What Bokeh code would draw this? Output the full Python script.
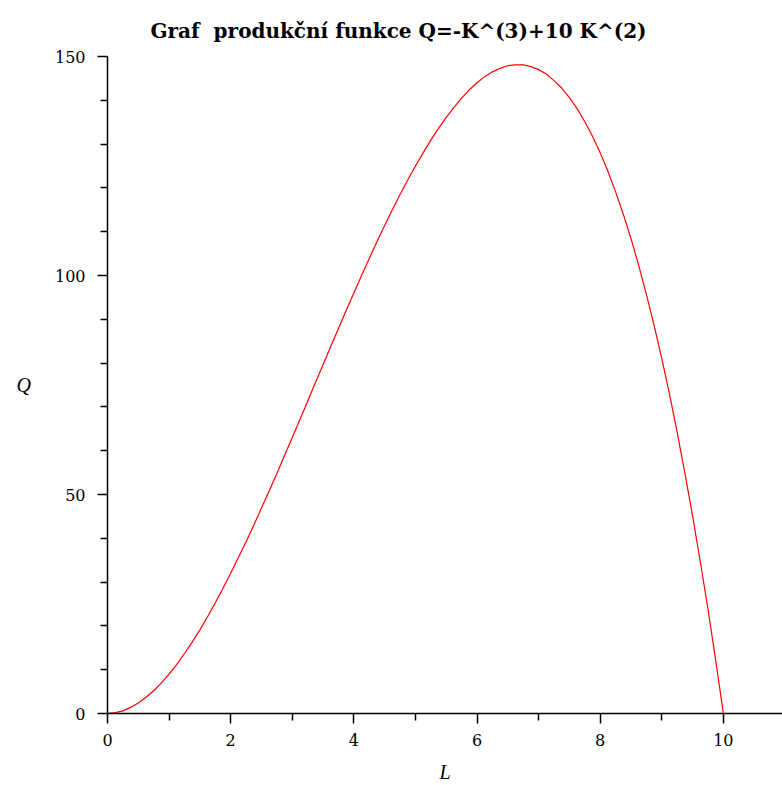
from bokeh.plotting import figure
from bokeh.models import FixedTicker, Range1d
from bokeh.embed import file_html
from bokeh.resources import INLINE

# values (L step 0.125)
L_vals = [i * 0.125 for i in range(81)]
Q_vals = [0, 0.2, 0.6, 1.4, 2.4, 3.7, 5.2, 7.0,
          9, 11.2, 13.7, 16.3, 19.1, 22.1, 25.3, 28.6,
          32, 35.6, 39.2, 43.0, 46.9, 50.8, 54.8, 58.9,
          63, 67.1, 71.3, 75.5, 79.6, 83.8, 87.9, 92.0,
          96, 100.0, 103.9, 107.7, 111.4, 115.0, 118.5, 121.8,
          125, 128.0, 130.9, 133.6, 136.1, 138.4, 140.5, 142.4,
          144, 145.4, 146.5, 147.3, 147.9, 148.1, 148.1, 147.7,
          147, 146.0, 144.5, 142.8, 140.6, 138.1, 135.1, 131.8,
          128, 123.8, 119.1, 114.0, 108.4, 102.3, 95.7, 88.6,
          81, 72.9, 64.2, 54.9, 45.1, 34.7, 23.8, 12.2,
          0]
x_ticks = [0, 2, 4, 6, 8, 10]
x_minor = [1, 3, 5, 7, 9]
y_ticks = [0, 50, 100, 150]
y_minor = [v for v in range(0, 151, 10) if v % 50 != 0]

title_text = "Graf\u00a0 produkční funkce Q=-K^(3)+10 K^(2)"

p = figure(width=782, height=785, output_backend="svg", toolbar_location=None,
           x_range=Range1d(0, 10.96), y_range=Range1d(0, 150),
           min_border_left=107, min_border_right=0, min_border_top=56, min_border_bottom=71,
           title=title_text)
p.title.text_font = "DejaVu Serif"
p.title.text_font_style = "bold"
p.title.text_font_size = "20px"
p.title.align = "left"
p.title.offset = 43
p.title.standoff = 27
p.title.text_color = "black"

p.line(L_vals, Q_vals, line_color="red", line_width=1.2)

p.outline_line_color = None
p.grid.visible = False
p.background_fill_color = "white"
p.border_fill_color = "white"

for ax in (p.xaxis[0], p.yaxis[0]):
    ax.axis_line_color = "black"
    ax.axis_line_width = 1.5
    ax.major_tick_line_color = "black"
    ax.major_tick_line_width = 1.5
    ax.minor_tick_line_color = "black"
    ax.minor_tick_line_width = 1.5
    ax.major_tick_in = 0
    ax.major_tick_out = 10
    ax.minor_tick_in = 0
    ax.minor_tick_out = 7
    ax.major_label_text_font = "DejaVu Serif"
    ax.major_label_text_font_size = "16px"
    ax.major_label_text_color = "black"
    ax.axis_label_text_font = "Liberation Serif"
    ax.axis_label_text_font_style = "italic"
    ax.axis_label_text_font_size = "20px"
    ax.axis_label_text_color = "black"

p.xaxis[0].ticker = FixedTicker(ticks=x_ticks, minor_ticks=x_minor)
p.yaxis[0].ticker = FixedTicker(ticks=y_ticks, minor_ticks=y_minor)
p.xaxis[0].axis_label = "L"
p.yaxis[0].axis_label = "Q"
p.yaxis[0].axis_label_orientation = "horizontal"
p.xaxis[0].major_label_standoff = 10
p.yaxis[0].major_label_standoff = 12
p.xaxis[0].axis_label_standoff = 12
p.yaxis[0].axis_label_standoff = 21

open("out.html", "w").write(file_html(p, INLINE))
